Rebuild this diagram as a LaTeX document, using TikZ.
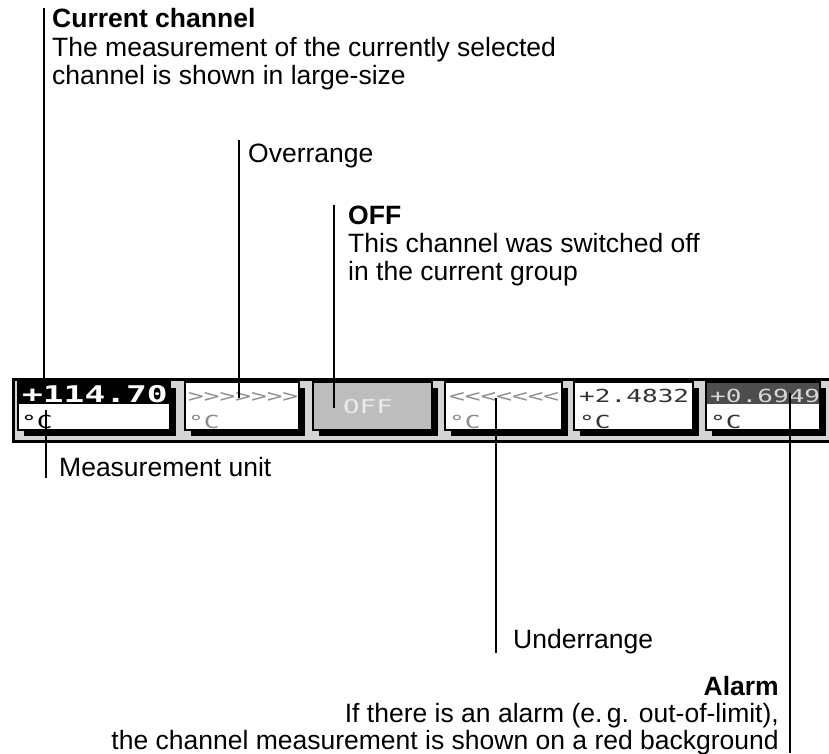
\documentclass[tikz,border=0pt]{standalone}
\usepackage{fontspec}
\setmainfont{Liberation Sans}
\newfontfamily\lcd{DejaVu Sans Mono}
\usepackage{graphicx}
\definecolor{framegray}{HTML}{D4D4D4}
\definecolor{offgray}{HTML}{BDBDBD}
\definecolor{lcdgray}{HTML}{8C8C8C}
\definecolor{alarmbg}{HTML}{4D4D4D}
\definecolor{alarmfg}{HTML}{D8D8D8}
\begin{document}
\begin{tikzpicture}[x=1pt,y=-1pt,
  lbl/.style={font=\fontsize{26.5}{28}\selectfont, inner sep=0pt, anchor=base west},
  lblb/.style={lbl, font=\fontsize{26.5}{28}\selectfont\bfseries},
  lblr/.style={lbl, anchor=base east},
  lblrb/.style={lblb, anchor=base east},
  leader/.style={line width=2pt, black},
  shadowbox/.style={fill=black},
  facebox/.style={draw=black, line width=1.2pt},
  lcdtxt/.style={inner sep=0pt, anchor=base west, font=\lcd\fontsize{18}{18}\selectfont},
  lcdbig/.style={inner sep=0pt, anchor=base west, font=\lcd\bfseries\fontsize{23}{23}\selectfont, text=white}]
\fill[white] (0,0) rectangle (829,753);
\useasboundingbox (0,0) rectangle (829,753);

% display strip frame
\filldraw[fill=framegray, draw=black, line width=3pt] (13.5,379.5) rectangle (845,441);

% channel boxes: shadows and faces
\foreach \a/\b in {18/170,185/299,313/432,445/562,574/693,706/820}{
  \fill[shadowbox] (\a+6,388) rectangle (\b+6,436);
}
\filldraw[facebox, fill=white, line width=2pt] (18,382) rectangle (170,430);
\fill[black] (18,382) rectangle (170,404);
\filldraw[facebox, fill=white] (185,382) rectangle (299,430);
\filldraw[facebox, fill=offgray] (313,382) rectangle (432,430);
\filldraw[facebox, fill=white] (445,382) rectangle (562,430);
\filldraw[facebox, fill=white] (574,382) rectangle (693,430);
\filldraw[facebox, fill=white] (706,382) rectangle (820,430);
\fill[alarmbg] (706.6,382.6) rectangle (819.4,404);

% box contents
\node[lcdbig] (v1) at (22,402) {\scalebox{1.5}[1]{+114.70}};
\node[lcdtxt] (u1) at (21,428) {\scalebox{1.45}[1]{°C}};
\node[lcdtxt, text=lcdgray] (v2) at (188,402) {\scalebox{1.45}[1]{>>>>>>>}};
\node[lcdtxt, text=lcdgray] (u2) at (188,428) {\scalebox{1.45}[1]{°C}};
\node[inner sep=0pt, font=\lcd\fontsize{19}{19}\selectfont, text=white!92!black] (v3) at (368,407) {\scalebox{1.45}[1]{OFF}};
\node[lcdtxt, text=lcdgray] (v4) at (449,402) {\scalebox{1.45}[1]{<<<<<<<}};
\node[lcdtxt, text=lcdgray] (u4) at (449,428) {\scalebox{1.45}[1]{°C}};
\node[lcdtxt, text=black!80] (v5) at (579,402) {\scalebox{1.45}[1]{+2.4832}};
\node[lcdtxt, text=black!80] (u5) at (579,428) {\scalebox{1.45}[1]{°C}};
\node[lcdtxt, text=alarmfg] (v6) at (710,402) {\scalebox{1.45}[1]{+0.6949}};
\node[lcdtxt, text=black!80] (u6) at (710,428) {\scalebox{1.45}[1]{°C}};

% labels
\node[lblb] (curT) at (52,27) {Current channel};
\node[lbl] (curA) at (52,56) {The measurement of the currently selected};
\node[lbl] (curB) at (52,84) {channel is shown in large-size};
\node[lbl] (ovr) at (248,162) {Overrange};
\node[lblb] (offT) at (348,224) {OFF};
\node[lbl] (offA) at (348,252) {This channel was switched off};
\node[lbl] (offB) at (348,280) {in the current group};
\node[lbl] (unit) at (59,476) {Measurement unit};
\node[lbl] (und) at (513,648) {Underrange};
\node[lblrb] (alT) at (779,695) {Alarm};
\node[lblr] (alA) at (779,722) {If there is an alarm (e.\,g. out-of-limit),};
\node[lblr] (alB) at (779,749) {the channel measurement is shown on a red background};

% leader lines
\coordinate (curTop) at (44,8);   \coordinate (curEnd) at (44,393);
\coordinate (ovrTop) at (239,140); \coordinate (ovrEnd) at (239,398);
\coordinate (offTop) at (334,205); \coordinate (offEnd) at (334,408);
\coordinate (unitTop) at (46,410); \coordinate (unitEnd) at (46,478);
\coordinate (undTop) at (496,398); \coordinate (undEnd) at (496,653);
\coordinate (alTop) at (790,393);  \coordinate (alEnd) at (790,753);
\draw[leader] (curTop) -- (curEnd);
\draw[leader] (ovrTop) -- (ovrEnd);
\draw[leader] (offTop) -- (offEnd);
\draw[leader] (unitTop) -- (unitEnd);
\draw[leader] (undTop) -- (undEnd);
\draw[leader] (alTop) -- (alEnd);
\end{tikzpicture}
\end{document}
